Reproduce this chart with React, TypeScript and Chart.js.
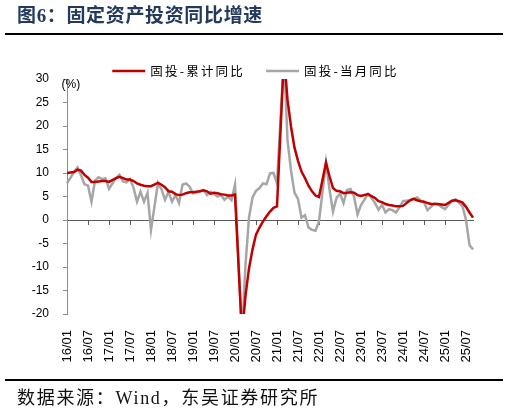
import React, { useEffect, useRef } from "react";
import { Chart, registerables } from "chart.js";

Chart.register(...registerables);

// Axis tick labels shown every 6 months (data dated month-end sit at next month's start)
const tickLabels = [
  "16/01", "16/07", "17/01", "17/07", "18/01", "18/07", "19/01", "19/07",
  "20/01", "20/07", "21/01", "21/07", "22/01", "22/07", "23/01", "23/07",
  "24/01", "24/07", "25/01", "25/07",
];

const seriesNames = ["固投-累计同比", "固投-当月同比"];

// Monthly data from 2015-12 to 2025-08 (January has no data: null)
const cumulative = [
  10.0,
  null, 10.2, 10.7, 10.5, 9.6, 9.0, 8.1, 8.1, 8.2, 8.3, 8.3, 8.1,
  null, 8.9, 9.2, 8.9, 8.6, 8.6, 8.3, 7.8, 7.5, 7.3, 7.2, 7.2,
  null, 7.9, 7.5, 7.0, 6.1, 6.0, 5.5, 5.3, 5.4, 5.7, 5.9, 5.9,
  null, 6.1, 6.3, 6.1, 5.6, 5.8, 5.7, 5.5, 5.4, 5.2, 5.2, 5.4,
  null, -24.5, -16.1, -10.3, -6.3, -3.1, -1.6, -0.3, 0.8, 1.8, 2.6, 2.9,
  null, 35.0, 25.6, 19.9, 15.4, 12.6, 10.3, 8.9, 7.3, 6.1, 5.2, 4.9,
  null, 12.2, 9.3, 6.8, 6.2, 6.1, 5.7, 5.8, 5.9, 5.8, 5.3, 5.1,
  null, 5.5, 5.1, 4.7, 4.0, 3.8, 3.4, 3.2, 3.1, 2.9, 2.9, 3.0,
  null, 4.2, 4.5, 4.2, 4.0, 3.9, 3.6, 3.4, 3.4, 3.4, 3.3, 3.2,
  null, 4.1, 4.2, 4.0, 3.7, 2.8, 1.6, 0.5,
];

const monthly = [
  7.8,
  null, 10.2, 11.2, 9.5, 7.6, 7.3, 3.9, 8.4, 9.1, 8.7, 8.9, 6.6,
  null, 8.9, 9.6, 8.2, 8.0, 8.7, 6.9, 3.9, 6.0, 3.9, 5.8, -2.1,
  null, 7.9, 6.5, 4.3, 6.0, 3.9, 5.3, 3.6, 7.5, 7.8, 7.1, 5.7,
  null, 6.1, 6.4, 5.3, 6.0, 5.6, 5.0, 5.3, 4.3, 5.0, 4.2, 7.5,
  null, -24.5, -9.5, 0.5, 4.8, 6.2, 6.8, 7.8, 7.6, 9.9, 10.0, 7.8,
  null, 35.0, 17.0, 10.5, 5.8, 4.5, 0.5, 1.0, -1.6, -2.1, -2.3, -0.3,
  null, 12.2, 6.5, 1.8, 4.7, 5.6, 3.6, 6.4, 6.6, 5.0, 1.2, 3.2,
  null, 5.5, 4.7, 3.6, 2.2, 3.2, 1.6, 2.3, 2.1, 1.6, 2.7, 4.0,
  null, 4.2, 4.5, 4.8, 4.2, 3.8, 2.1, 2.8, 3.5, 3.3, 2.8, 2.3,
  null, 4.1, 4.4, 3.7, 2.9, 0.0, -5.3, -6.3,
];

// Category list: one per data month, 2015-12 .. 2025-08
const categories: string[] = [];
for (let y = 2015; y <= 2025; y++) {
  for (let m = 1; m <= 12; m++) {
    if (y === 2015 && m < 12) continue;
    if (y === 2025 && m > 8) continue;
    categories.push(`${y}-${String(m).padStart(2, "0")}`);
  }
}

const RED = "#C00000";
const GRAY = "#A6A6A6";

const overlayPlugin = {
  id: "overlayText",
  afterDraw(chart: any) {
    const ctx = chart.ctx as CanvasRenderingContext2D;
    const area = chart.chartArea;
    ctx.save();
    // Unit label
    ctx.font = '12px "Liberation Sans", Arial, sans-serif';
    ctx.fillStyle = "#000";
    ctx.textAlign = "left";
    ctx.textBaseline = "middle";
    ctx.fillText("(%)", area.left - 5.5, area.top + 6);

    // Legend
    const ds = chart.data.datasets;
    ctx.font = '12.5px "Noto Sans CJK SC", sans-serif';
    (ctx as any).letterSpacing = "2.2px";
    const lineW = 33;
    const gapText = 5;
    const gapItem = 21;
    const widths = ds.map((d: any) => ctx.measureText(d.label).width);
    const total =
      ds.length * (lineW + gapText) +
      widths.reduce((a: number, b: number) => a + b, 0) +
      gapItem * (ds.length - 1);
    let x = chart.width / 2 + 1 - total / 2;
    const y = 71;
    ds.forEach((d: any, i: number) => {
      ctx.strokeStyle = d.borderColor;
      ctx.lineWidth = d.borderWidth;
      ctx.beginPath();
      ctx.moveTo(x, y);
      ctx.lineTo(x + lineW, y);
      ctx.stroke();
      x += lineW + gapText;
      ctx.fillStyle = "#000";
      ctx.textBaseline = "middle";
      ctx.fillText(d.label, x, y + 0.5);
      x += widths[i] + gapItem;
    });
    ctx.restore();
  },
};

function FaiChart() {
  const ref = useRef<HTMLCanvasElement | null>(null);
  useEffect(() => {
    if (!ref.current) return;
    Chart.defaults.font.family = '"Liberation Sans", Arial, sans-serif';
    const chart = new Chart(ref.current, {
      type: "line",
      data: {
        labels: categories,
        datasets: [
          {
            label: seriesNames[0],
            data: cumulative,
            borderColor: RED,
            backgroundColor: RED,
            borderWidth: 2.5,
            pointRadius: 0,
            tension: 0,
            spanGaps: true,
            xAxisID: "x",
            yAxisID: "y",
          },
          {
            label: seriesNames[1],
            data: monthly,
            borderColor: GRAY,
            backgroundColor: GRAY,
            borderWidth: 2.5,
            pointRadius: 0,
            tension: 0,
            spanGaps: true,
            xAxisID: "x",
            yAxisID: "y",
          },
        ],
      },
      options: {
        responsive: false,
        animation: false,
        layout: { padding: { top: 79, right: 36, bottom: 0, left: 0 } },
        plugins: {
          legend: { display: false },
          tooltip: { enabled: false },
        },
        scales: {
          x: {
            type: "category",
            position: "bottom",
            offset: false,
            grid: { display: false },
            border: { display: false },
            ticks: {
              autoSkip: false,
              maxRotation: 90,
              minRotation: 90,
              padding: 8,
              color: "#000",
              font: { size: 13 },
              callback: (_v: any, i: number) =>
                i % 6 === 0 && tickLabels[i / 6] ? tickLabels[i / 6] : "",
            },
            afterFit: (s: any) => {
              s.height = 99;
            },
          },
          x2: {
            type: "category",
            labels: categories,
            position: { y: 0 },
            offset: false,
            grid: {
              drawOnChartArea: false,
              drawTicks: true,
              tickLength: 4,
              lineWidth: 1,
              color: (c: any) => (c.index % 6 === 0 ? "#595959" : "rgba(0,0,0,0)"),
            },
            border: { display: true, color: "#595959", width: 1 },
            ticks: { display: false },
          },
          y: {
            type: "linear",
            min: -20,
            max: 30,
            ticks: {
              stepSize: 5,
              padding: 14,
              color: "#000",
              font: { size: 12 },
            },
            grid: {
              drawOnChartArea: false,
              drawTicks: true,
              tickLength: 4,
              color: "#8C8C8C",
            },
            border: { display: true, color: "#8C8C8C", width: 1 },
            afterFit: (s: any) => {
              s.width = 67;
            },
          },
        },
      } as any,
      plugins: [overlayPlugin],
    });
    return () => chart.destroy();
  }, []);
  return (
    <canvas
      ref={ref}
      width={509}
      height={413}
      style={{ width: 509, height: 413, display: "block" }}
    />
  );
}

export default function App() {
  return (
    <div
      style={{
        position: "absolute",
        left: 0,
        top: 0,
        width: 509,
        height: 413,
        background: "#fff",
        overflow: "hidden",
      }}
    >
      <div style={{ position: "absolute", left: 0, top: 0 }}>
        <FaiChart />
      </div>
      <div
        style={{
          position: "absolute",
          left: 17,
          top: 3,
          fontFamily: '"Liberation Serif", "Noto Sans CJK SC", serif',
          fontWeight: 700,
          fontSize: 19,
          lineHeight: "26px",
          color: "#233A5E",
          whiteSpace: "nowrap",
          letterSpacing: "0.65px",
        }}
      >
        图6：固定资产投资同比增速
      </div>
      <div
        style={{
          position: "absolute",
          left: 5,
          top: 33,
          width: 498,
          height: 2,
          background: "#000",
        }}
      />
      <div
        style={{
          position: "absolute",
          left: 5,
          top: 379,
          width: 498,
          height: 2,
          background: "#000",
        }}
      />
      <div
        style={{
          position: "absolute",
          left: 17,
          top: 387,
          fontFamily: '"Liberation Serif", "Noto Sans CJK SC", serif',
          fontSize: 18,
          lineHeight: "22px",
          color: "#111",
          whiteSpace: "nowrap",
          letterSpacing: "1.7px",
        }}
      >
        数据来源：Wind，东吴证券研究所
      </div>
    </div>
  );
}
